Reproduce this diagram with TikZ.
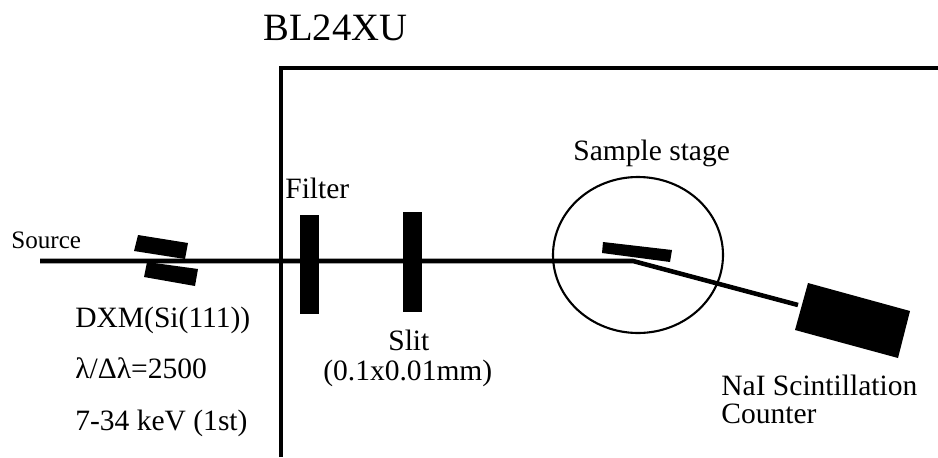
\documentclass[tikz,border=0pt]{standalone}
\usepackage{fontspec}
\setmainfont{Liberation Serif}
\tikzset{
  lbl/.style={anchor=base west,inner sep=0pt,font=\fontsize{16.8}{20}\selectfont},
  lblbig/.style={lbl,font=\fontsize{22}{26}\selectfont},
  lblsmall/.style={lbl,font=\fontsize{14.3}{17}\selectfont},
  wall/.style={line width=2.6pt},
  beam/.style={line width=2.6pt}
}
\begin{document}
\begin{tikzpicture}
        \useasboundingbox (0,0) rectangle (18.76,9.14);
        % Labels
        \path(5.26,8.32) node[lblbig] (title) {BL24XU};
        \path(0.22,4.18) node[lblsmall] (source) {Source};
        \path(1.50,2.60) node[lbl] (dxm) {DXM(Si(111))};
        \path(1.50,1.58) node[lbl] (res) {λ/Δλ=2500};
        \path(1.50,0.54) node[lbl] (range) {7-34 keV (1st)};
        \path(5.70,5.18) node[lbl] (filter) {Filter};
        \path(7.76,2.14) node[lbl] (slit) {Slit};
        \path(6.46,1.54) node[lbl] (slitsize) {(0.1x0.01mm)};
        \path(11.46,5.94) node[lbl] (stage) {Sample stage};
        \path(14.42,1.24) node[lbl] (nai) {NaI Scintillation};
        \path(14.42,0.68) node[lbl] (counter) {Counter};
        % Hutch wall
        \coordinate (walltop) at (5.62,7.78);
        \draw[wall](5.62,0) -- (walltop) -- (18.76,7.78);
        % Beam
        \coordinate (start) at (0.80,3.92);
        \coordinate (refl) at (12.66,3.92);
        \coordinate (stop) at (15.96,3.04);
        \draw[beam](start) -- (refl) -- (stop);
        % Monochromator
        \fill(2.76,4.44) -- (3.76,4.28) -- (3.70,3.96) -- (2.68,4.12) -- cycle;
        \fill(2.94,3.90) -- (3.96,3.76) -- (3.90,3.42) -- (2.88,3.60) -- cycle;
        % Filter and slit
        \fill(6.00,2.86) rectangle (6.38,4.84);
        \fill(8.06,2.90) rectangle (8.44,4.90);
        % Stage
        \draw[line width=1.2pt](12.76,4.04) ellipse (1.70 and 1.56);
        \fill(12.06,4.30) -- (13.44,4.14) -- (13.40,3.90) -- (12.04,4.08) -- cycle;
        % Detector
        \fill(16.16,3.48) -- (18.20,2.92) -- (17.96,1.98) -- (15.90,2.54) -- cycle;
\end{tikzpicture}
\end{document}
